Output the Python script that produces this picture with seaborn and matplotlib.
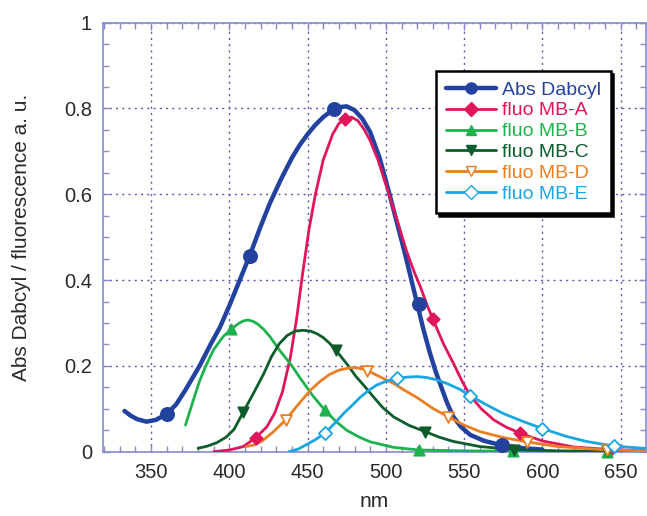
import matplotlib
matplotlib.use("Agg")
import matplotlib.pyplot as plt
from matplotlib.lines import Line2D
from matplotlib.ticker import MultipleLocator
import seaborn as sns

# curves (nm, value)
abs_x = [333, 337, 341, 347, 353, 360, 366, 372, 381, 388, 394, 400, 405, 413, 420, 426, 433, 440, 445,
         450, 455, 460, 465, 470, 475, 480, 485, 490, 496, 502, 507, 512, 516, 520, 524, 528, 532, 535,
         539, 543, 548, 554, 563, 573, 588, 600]
abs_y = [0.095, 0.084, 0.076, 0.070, 0.074, 0.088, 0.110, 0.144, 0.200, 0.250, 0.290, 0.340, 0.385, 0.457,
         0.525, 0.580, 0.635, 0.685, 0.715, 0.740, 0.762, 0.780, 0.794, 0.803, 0.805, 0.796, 0.776, 0.745,
         0.685, 0.605, 0.535, 0.465, 0.405, 0.345, 0.285, 0.232, 0.185, 0.155, 0.115, 0.082, 0.058, 0.039,
         0.025, 0.016, 0.008, 0.005]

mba_x = [390, 400, 409, 417, 424, 429, 434, 439, 443, 447, 451, 455, 460, 466, 470, 474, 478, 482, 486,
         490, 495, 502, 508, 513, 518, 522, 526, 530, 537, 544, 549, 554, 561, 569, 577, 586, 600, 620,
         643, 668]
mba_y = [0.0, 0.004, 0.012, 0.033, 0.058, 0.090, 0.140, 0.220, 0.310, 0.420, 0.520, 0.600, 0.680, 0.740,
         0.765, 0.776, 0.780, 0.772, 0.752, 0.725, 0.680, 0.600, 0.530, 0.470, 0.420, 0.385, 0.345, 0.309,
         0.250, 0.200, 0.162, 0.130, 0.100, 0.074, 0.057, 0.043, 0.025, 0.011, 0.005, 0.002]

mbb_x = [372, 377, 381, 385, 390, 396, 401, 406, 409, 412, 415, 418, 422, 426, 432, 440, 445, 453, 461,
         468, 475, 483, 490, 505, 521, 550, 581, 641, 668]
mbb_y = [0.062, 0.120, 0.165, 0.200, 0.238, 0.268, 0.285, 0.299, 0.305, 0.307, 0.304, 0.298, 0.285, 0.268,
         0.237, 0.200, 0.173, 0.132, 0.097, 0.071, 0.050, 0.034, 0.023, 0.010, 0.004, 0.002, 0.001, 0.0, 0.0]

mbc_x = [380, 386, 392, 398, 403, 409, 416, 422, 427, 432, 437, 442, 447, 452, 456, 460, 464, 468, 475,
         481, 487, 492, 498, 505, 515, 525, 534, 543, 560, 582, 610, 641, 668]
mbc_y = [0.008, 0.013, 0.021, 0.034, 0.052, 0.093, 0.140, 0.182, 0.222, 0.252, 0.271, 0.281, 0.283, 0.281,
         0.275, 0.266, 0.253, 0.237, 0.205, 0.175, 0.150, 0.128, 0.103, 0.081, 0.061, 0.047, 0.034, 0.024,
         0.012, 0.005, 0.002, 0.001, 0.0]

mbd_x = [411, 416, 421, 428, 436, 444, 452, 458, 464, 470, 476, 481, 486, 490, 496, 505, 512, 520, 530,
         540, 550, 560, 575, 590, 610, 641, 668]
mbd_y = [0.012, 0.016, 0.025, 0.046, 0.074, 0.110, 0.144, 0.164, 0.180, 0.190, 0.195, 0.196, 0.192, 0.186,
         0.175, 0.159, 0.143, 0.126, 0.101, 0.081, 0.062, 0.047, 0.033, 0.023, 0.012, 0.004, 0.002]

mbe_x = [438, 444, 449, 455, 461, 467, 473, 479, 484, 489, 494, 500, 507, 514, 520, 526, 532, 539, 547,
         554, 565, 575, 588, 600, 615, 628, 646, 668]
mbe_y = [0.0, 0.006, 0.016, 0.028, 0.043, 0.065, 0.089, 0.110, 0.128, 0.143, 0.155, 0.164, 0.171, 0.174,
         0.175, 0.173, 0.168, 0.159, 0.146, 0.130, 0.108, 0.089, 0.070, 0.054, 0.036, 0.024, 0.013, 0.007]

# marker positions
abs_mx = [360, 413, 467, 521, 574]
abs_my = [0.088, 0.457, 0.798, 0.345, 0.015]
mba_mx = [417, 474, 530, 586, 643]
mba_my = [0.033, 0.776, 0.309, 0.043, 0.005]
mbb_mx = [401, 461, 521, 581, 641]
mbb_my = [0.285, 0.097, 0.004, 0.001, 0.0]
mbc_mx = [409, 468, 525, 582, 641]
mbc_my = [0.093, 0.237, 0.047, 0.005, 0.001]
mbd_mx = [436, 488, 540, 590, 641]
mbd_my = [0.074, 0.189, 0.081, 0.023, 0.004]
mbe_mx = [461, 507, 554, 600, 646]
mbe_my = [0.043, 0.171, 0.130, 0.054, 0.014]

names = ["Abs Dabcyl", "fluo MB-A", "fluo MB-B", "fluo MB-C", "fluo MB-D", "fluo MB-E"]
colors = ["#2342a0", "#e0155c", "#1eb24e", "#0c5c2c", "#e97f22", "#1aa6e2"]
curves = [(abs_x, abs_y), (mba_x, mba_y), (mbb_x, mbb_y), (mbc_x, mbc_y), (mbd_x, mbd_y), (mbe_x, mbe_y)]
marks = [(abs_mx, abs_my), (mba_mx, mba_my), (mbb_mx, mbb_my), (mbc_mx, mbc_my), (mbd_mx, mbd_my), (mbe_mx, mbe_my)]
shapes = ["o", "D", "^", "v", "v", "D"]
filled = [True, True, True, True, False, False]
sizes = [90, 40, 55, 55, 60, 45]
widths = [3.2, 2.0, 2.0, 2.0, 2.0, 2.0]

sns.set_style("ticks")
plt.rcParams['font.family'] = ['Liberation Sans', 'DejaVu Sans']

fig = plt.figure(figsize=(6.47, 5.16), dpi=100)
ax = fig.add_axes([103 / 647, 64.3 / 516, 543 / 647, 429 / 516])

for i in range(len(names)):
    cx, cy = curves[i]
    mx, my = marks[i]
    sns.lineplot(x=cx, y=cy, ax=ax, color=colors[i], lw=widths[i], sort=False, estimator=None,
                 solid_joinstyle="round", solid_capstyle="round", zorder=3 + i * 0.1)
    sns.scatterplot(x=mx, y=my, ax=ax, marker=shapes[i], s=sizes[i],
                    color=colors[i] if filled[i] else "white",
                    edgecolor=colors[i], linewidth=1.3, zorder=5, clip_on=False)

ax.set_xlim(319.3, 666.2)
ax.set_ylim(0, 1)
ax.xaxis.set_major_locator(MultipleLocator(50))
ax.xaxis.set_minor_locator(MultipleLocator(10))
ax.yaxis.set_minor_locator(MultipleLocator(0.05))
ax.set_yticks([0, 0.2, 0.4, 0.6, 0.8, 1.0])
ax.set_yticklabels(["0", "0.2", "0.4", "0.6", "0.8", "1"])

tc = "#8a8ad0"
ax.tick_params(which="both", direction="in", top=True, right=True, color=tc, labelsize=14.5,
               labelcolor="#2a2a2a", pad=8)
ax.tick_params(which="major", length=5, width=1)
ax.tick_params(which="minor", length=4, width=1)
for sp in ax.spines.values():
    sp.set_color(tc)
    sp.set_linewidth(1.2)
ax.grid(True, which="major", color="#5a5ab8", linestyle=(0, (1.5, 3)), linewidth=1)

ax.set_xlabel("nm", fontsize=15, color="#2a2a2a", labelpad=7)
ax.set_ylabel("Abs Dabcyl / fluorescence a. u.", fontsize=15, color="#2a2a2a", labelpad=24)

handles = []
for i in range(len(names)):
    handles.append(Line2D([], [], color=colors[i], lw=widths[i], marker=shapes[i],
                          markersize=8 if i == 0 else 7,
                          markerfacecolor=colors[i] if filled[i] else "white",
                          markeredgecolor=colors[i]))
leg = ax.legend(handles, names, loc="upper left", bbox_to_anchor=(0.613, 0.887), fontsize=14,
                frameon=True, fancybox=False, shadow={"color": "black", "alpha": 1},
                handlelength=2.6, handletextpad=0.3, labelspacing=0.17, borderpad=0.5,
                borderaxespad=0)
leg.get_frame().set_edgecolor("black")
leg.get_frame().set_linewidth(1.8)
for t, c in zip(leg.get_texts(), colors):
    t.set_color(c)

fig.savefig("out.png", dpi=100)
